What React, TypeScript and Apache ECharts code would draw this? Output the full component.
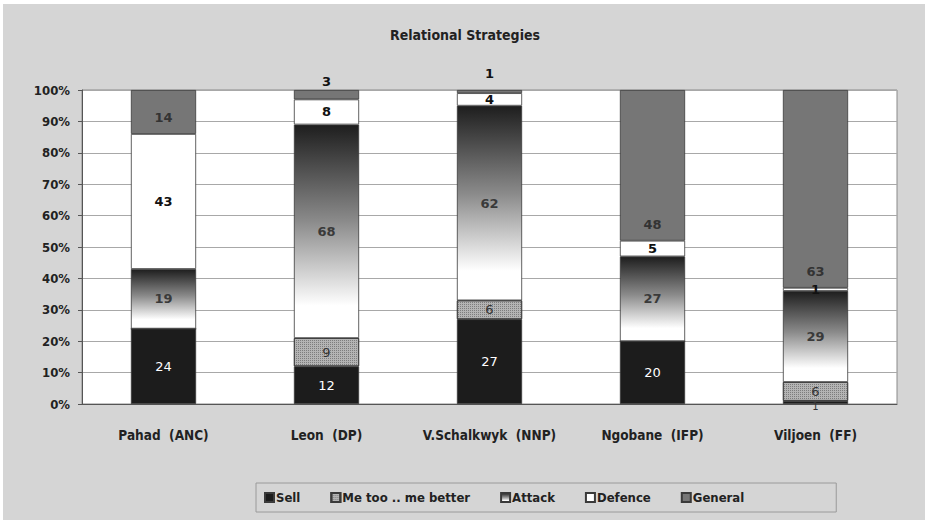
import React, { useEffect, useRef } from "react";
import * as echarts from "echarts";

// Relational strategies per party spokesperson (percent of statements)
const categories = [
  "Pahad  (ANC)",
  "Leon  (DP)",
  "V.Schalkwyk  (NNP)",
  "Ngobane  (IFP)",
  "Viljoen  (FF)",
];
const sell = [24, 12, 27, 20, 1];
const meToo = [0, 9, 6, 0, 6];
const attack = [19, 68, 62, 27, 29];
const defence = [43, 8, 4, 5, 1];
const general = [14, 3, 1, 48, 63];
const yTicks = [0, 10, 20, 30, 40, 50, 60, 70, 80, 90, 100];

const LABEL_FONT = "'DejaVu Sans', Verdana, sans-serif";
const BOLD_FONT = "'DejaVu Sans Condensed', 'DejaVu Sans', sans-serif";

export default function App() {
  const ref = useRef<HTMLDivElement>(null);

  useEffect(() => {
    document.body.style.margin = "0";
    if (!ref.current) return;
    const chart = echarts.init(ref.current, undefined, { renderer: "svg" });

    const hideZero = (p: any) => (p.value ? String(p.value) : "");
    const baseLabel = {
      show: true,
      position: "inside",
      fontFamily: LABEL_FONT,
      fontSize: 13,
      formatter: hideZero,
    };
    const border = { borderColor: "#3a3a3a", borderWidth: 0.8 };

    const attackFill = new echarts.graphic.LinearGradient(0, 0, 0, 1, [
      { offset: 0, color: "#1e1e1e" },
      { offset: 0.45, color: "#8a8a8a" },
      { offset: 0.85, color: "#ffffff" },
      { offset: 1, color: "#ffffff" },
    ]);

    chart.setOption({
      animation: false,
      backgroundColor: "#ffffff",
      graphic: [
        {
          type: "rect",
          z: -10,
          zlevel: 0,
          silent: true,
          shape: { x: 3, y: 4, width: 922, height: 516 },
          style: { fill: "#d5d5d5" },
        },
      ],
      title: {
        text: "Relational Strategies",
        left: "center",
        top: 23,
        textStyle: {
          fontFamily: BOLD_FONT,
          fontWeight: "bold",
          fontSize: 14,
          color: "#222",
        },
      },
      legend: {
        bottom: 8,
        left: 256,
        padding: [8, 92, 8, 8],
        borderColor: "#9a9a9a",
        borderWidth: 1,
        itemWidth: 9,
        itemHeight: 9,
        itemGap: 30,
        icon: "rect",
        textStyle: {
          fontFamily: BOLD_FONT,
          fontWeight: "bold",
          fontSize: 13,
          color: "#222",
          padding: [0, 0, 0, -3],
        },
        data: ["Sell", "Me too .. me better", "Attack", "Defence", "General"],
      },
      grid: {
        left: 82,
        right: 33,
        top: 90,
        bottom: 116,
        show: true,
        backgroundColor: "#ffffff",
        borderColor: "#8a8a8a",
        borderWidth: 1,
      },
      xAxis: {
        type: "category",
        data: categories,
        axisTick: { show: false },
        axisLine: { lineStyle: { color: "#555" } },
        axisLabel: {
          interval: 0,
          margin: 24,
          fontFamily: BOLD_FONT,
          fontWeight: "bold",
          fontSize: 13.5,
          color: "#222",
        },
      },
      yAxis: {
        type: "value",
        min: yTicks[0],
        max: yTicks[yTicks.length - 1],
        interval: 10,
        axisLine: { show: true, lineStyle: { color: "#555" } },
        axisTick: { show: true, length: 4, lineStyle: { color: "#555" } },
        splitLine: { lineStyle: { color: "#a8a8a8", width: 1 } },
        axisLabel: {
          formatter: "{value}%",
          margin: 12,
          fontFamily: BOLD_FONT,
          fontWeight: "bold",
          fontSize: 13,
          color: "#222",
        },
      },
      series: [
        {
          name: "Sell",
          type: "bar",
          stack: "all",
          barWidth: "40%",
          data: sell.map((v) =>
            v <= 2
              ? {
                  value: v,
                  label: { position: "bottom", distance: -3, fontSize: 10, color: "#333" },
                }
              : v
          ),
          itemStyle: { color: "#1c1c1c", ...border },
          label: { ...baseLabel, color: "#ffffff" },
        },
        {
          name: "Me too .. me better",
          type: "bar",
          stack: "all",
          data: meToo,
          itemStyle: {
            color: "#b4b4b4",
            ...border,
            decal: {
              symbol: "rect",
              symbolSize: 1,
              color: "rgba(80,80,80,0.55)",
              dashArrayX: [1, 1],
              dashArrayY: [1, 1],
            },
          },
          label: { ...baseLabel, color: "#333" },
        },
        {
          name: "Attack",
          type: "bar",
          stack: "all",
          data: attack,
          itemStyle: { color: attackFill, ...border },
          label: { ...baseLabel, color: "#3a3a3a", fontWeight: "bold" },
        },
        {
          name: "Defence",
          type: "bar",
          stack: "all",
          data: defence,
          itemStyle: { color: "#ffffff", ...border },
          label: { ...baseLabel, color: "#111", fontWeight: "bold" },
        },
        {
          name: "General",
          type: "bar",
          stack: "all",
          data: general.map((v) =>
            v <= 3
              ? {
                  value: v,
                  label: {
                    position: "top",
                    distance: v < 2 ? 10 : 2,
                    color: "#111",
                    fontWeight: "bold",
                  },
                }
              : v
          ),
          itemStyle: { color: "#767676", ...border },
          label: {
            ...baseLabel,
            position: "insideBottom",
            distance: 10,
            color: "#333",
            fontWeight: "bold",
          },
        },
      ],
    });

    return () => chart.dispose();
  }, []);

  return <div ref={ref} style={{ width: 930, height: 520 }} />;
}
